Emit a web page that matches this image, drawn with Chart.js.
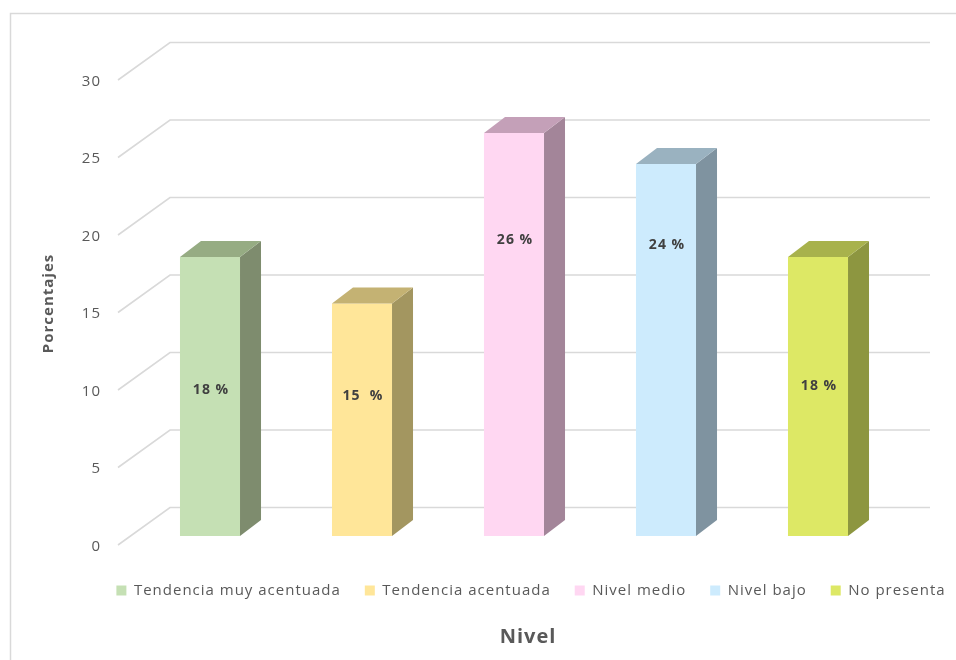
<!DOCTYPE html>
<html>
<head>
<meta charset="utf-8">
<script src="https://cdn.jsdelivr.net/npm/chart.js@4.4.1/dist/chart.umd.min.js"></script>
<style>
    html, body { margin: 0; padding: 0; background: #fff; }
</style>
</head>
<body>
<canvas id="nivelChart" width="956" height="660"></canvas>
<script>
// Datos
var niveles = ['Tendencia muy acentuada', 'Tendencia acentuada', 'Nivel medio', 'Nivel bajo', 'No presenta'];
var porcentajes = [18, 15, 26, 24, 18];
var sufijos = [' %', '  %', ' %', ' %', ' %'];
// altura (en % del eje) donde va cada etiqueta
var alturaEtiqueta = [9.4, 9.0, 19.1, 18.8, 9.7];
var ticksY = [0, 5, 10, 15, 20, 25, 30];

// Colores: cara frontal, lateral y superior
var colorFrente = ['#c5e0b4', '#ffe699', '#ffd7f2', '#cdebfd', '#dde865'];
var colorLado = ['#7e8c6e', '#a39660', '#a38599', '#7f93a0', '#8d9640'];
var colorTapa = ['#96ac83', '#c4b273', '#c4a0b8', '#9ab2c0', '#a8b24c'];

// profundidad de las barras y de las paredes
var PROF_X = 21, PROF_Y = 16;
var PARED = { frenteX: -16, frenteY: 9, fondoX: 36, fondoY: -28.5 };
var ESPACIADO = '1px';

Chart.defaults.font.family = "'Open Sans', sans-serif";
Chart.defaults.font.size = 15;
Chart.defaults.color = '#595959';

function centrar(box, cx) {
    var w = box.right - box.left;
    box.left = cx - w / 2;
    box.right = cx + w / 2;
}

var barras3d = {
    id: 'barras3d',
    beforeUpdate: function (chart) {
        chart.ctx.letterSpacing = ESPACIADO;
    },
    afterLayout: function (chart) {
        centrar(chart.legend, 531);
        centrar(chart.titleBlock, 528);
    },
    beforeDraw: function (chart) {
        var ctx = chart.ctx;
        ctx.letterSpacing = ESPACIADO;
        ctx.save();
        ctx.strokeStyle = '#d9d9d9';
        ctx.lineWidth = 1.5;
        ctx.strokeRect(10.5, 13.5, 1000, 700);
        ctx.restore();
    },
    beforeDatasetsDraw: function (chart) {
        // lineas de la pared lateral y del fondo
        var ctx = chart.ctx, area = chart.chartArea, y = chart.scales.y;
        ctx.save();
        ctx.strokeStyle = '#d9d9d9';
        ctx.lineWidth = 1.6;
        y.ticks.forEach(function (t) {
            var py = y.getPixelForValue(t.value);
            ctx.beginPath();
            ctx.moveTo(area.left + PARED.frenteX, py + PARED.frenteY);
            ctx.lineTo(area.left + PARED.fondoX, py + PARED.fondoY);
            ctx.lineTo(area.right + PARED.fondoX, py + PARED.fondoY);
            ctx.stroke();
        });
        ctx.restore();
    },
    afterDatasetsDraw: function (chart) {
        var ctx = chart.ctx, y = chart.scales.y;
        var meta = chart.getDatasetMeta(0);
        ctx.save();
        meta.data.forEach(function (bar, i) {
            var p = bar.getProps(['x', 'y', 'base', 'width'], true);
            var l = p.x - p.width / 2, r = p.x + p.width / 2;

            // lado derecho
            ctx.fillStyle = colorLado[i];
            ctx.beginPath();
            ctx.moveTo(r, p.y);
            ctx.lineTo(r + PROF_X, p.y - PROF_Y);
            ctx.lineTo(r + PROF_X, p.base - PROF_Y);
            ctx.lineTo(r, p.base);
            ctx.closePath();
            ctx.fill();

            // tapa
            ctx.fillStyle = colorTapa[i];
            ctx.beginPath();
            ctx.moveTo(l, p.y);
            ctx.lineTo(l + PROF_X, p.y - PROF_Y);
            ctx.lineTo(r + PROF_X, p.y - PROF_Y);
            ctx.lineTo(r, p.y);
            ctx.closePath();
            ctx.fill();

            // etiqueta
            ctx.fillStyle = '#404040';
            ctx.font = "bold 14px 'Open Sans', sans-serif";
            ctx.textAlign = 'center';
            ctx.textBaseline = 'middle';
            ctx.fillText(porcentajes[i] + sufijos[i], p.x + 1, y.getPixelForValue(alturaEtiqueta[i]));
        });
        ctx.restore();
    }
};

var chartData = {
    labels: niveles,
    datasets: [{
        label: 'Porcentajes',
        data: porcentajes,
        backgroundColor: colorFrente,
        borderWidth: 0,
        barPercentage: 0.395,
        categoryPercentage: 1
    }]
};

var config = {
    type: 'bar',
    data: chartData,
    plugins: [barras3d],
    options: {
        responsive: false,
        animation: false,
        layout: { padding: { left: 0, top: 71, right: 62, bottom: 0 } },
        scales: {
            x: {
                grid: { display: false, drawTicks: false },
                border: { display: false },
                ticks: { display: false },
                afterFit: function (scale) { scale.height = 23; }
            },
            y: {
                min: 0,
                max: 30,
                grid: { display: false, drawTicks: false },
                border: { display: false },
                afterBuildTicks: function (scale) {
                    scale.ticks = ticksY.map(function (v) { return { value: v }; });
                },
                ticks: { padding: 33, labelOffset: 10.5, color: '#595959', font: { size: 15 } },
                title: {
                    display: true,
                    text: 'Porcentajes',
                    color: '#595959',
                    font: { size: 15, weight: 'bold' },
                    padding: { top: 40, bottom: 0 }
                },
                afterFit: function (scale) { scale.width = 134; }
            }
        },
        plugins: {
            tooltip: { enabled: false },
            legend: {
                position: 'bottom',
                labels: {
                    boxWidth: 10,
                    boxHeight: 10,
                    padding: 24,
                    color: '#595959',
                    font: { size: 15 },
                    generateLabels: function () {
                        return niveles.map(function (n, i) {
                            return {
                                text: n,
                                fillStyle: colorFrente[i],
                                strokeStyle: colorFrente[i],
                                lineWidth: 0,
                                hidden: false,
                                index: i,
                                fontColor: '#595959'
                            };
                        });
                    }
                }
            },
            title: {
                display: true,
                position: 'bottom',
                text: 'Nivel',
                color: '#595959',
                font: { size: 20, weight: 'bold' },
                padding: { top: 17, bottom: 11 }
            }
        }
    }
};

new Chart(document.getElementById('nivelChart'), config);
</script>
</body>
</html>
